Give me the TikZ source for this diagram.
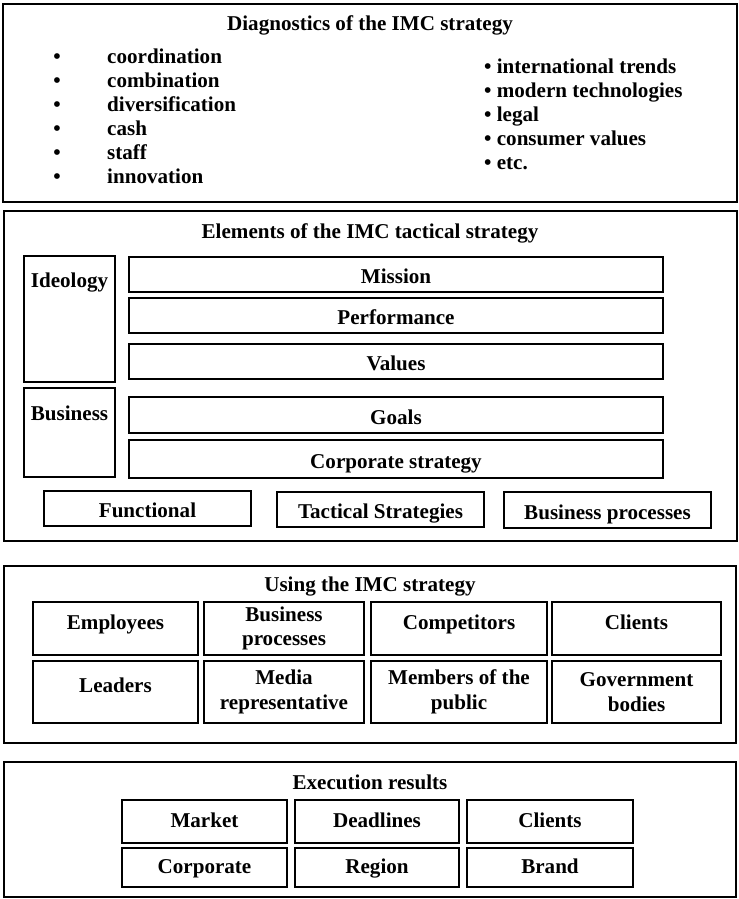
\documentclass[tikz,border=0pt]{standalone}
\usepackage{fontspec}
\setmainfont{Liberation Serif}
\usetikzlibrary{positioning}

\begin{document}
\begin{tikzpicture}[x=0.02cm,y=-0.02cm,
        every node/.style={font=\bfseries\fontsize{12}{14}\selectfont},
        panel/.style={draw,line width=1.2pt,inner sep=0pt},
        box/.style={draw,line width=1.1pt,align=center,inner sep=0pt},
        cell/.style={box,text height=12.5pt,text depth=2.2pt},
        upper/.style={text depth=11.8pt},
        result/.style={cell,text height=9pt}]

        \useasboundingbox (0,0) rectangle (739,899);

        % diagnostics
        \node[panel,minimum width=14.68cm,minimum height=3.96cm] (diag) at (370,103) {};
        \node (diagtitle) at (370,25) {Diagnostics of the IMC strategy};

        \node[anchor=base] (bul1) at (57,63) {\textbullet};
        \node[anchor=base west] (lft1) at (101,63) {coordination};
        \node[anchor=base] (bul2) at (57,87) {\textbullet};
        \node[anchor=base west] (lft2) at (101,87) {combination};
        \node[anchor=base] (bul3) at (57,111) {\textbullet};
        \node[anchor=base west] (lft3) at (101,111) {diversification};
        \node[anchor=base] (bul4) at (57,135) {\textbullet};
        \node[anchor=base west] (lft4) at (101,135) {cash};
        \node[anchor=base] (bul5) at (57,159) {\textbullet};
        \node[anchor=base west] (lft5) at (101,159) {staff};
        \node[anchor=base] (bul6) at (57,183) {\textbullet};
        \node[anchor=base west] (lft6) at (101,183) {innovation};

        \node[anchor=base west] (rgt1) at (478,73) {\textbullet\ international trends};
        \node[anchor=base west] (rgt2) at (478,97) {\textbullet\ modern technologies};
        \node[anchor=base west] (rgt3) at (478,121) {\textbullet\ legal};
        \node[anchor=base west] (rgt4) at (478,145) {\textbullet\ consumer values};
        \node[anchor=base west] (rgt5) at (478,169) {\textbullet\ etc.};

        % elements
        \node[panel,minimum width=14.66cm,minimum height=6.60cm] (elem) at (370.5,376) {};
        \node (elemtitle) at (370,233) {Elements of the IMC tactical strategy};

        \node[box,minimum width=1.82cm,minimum height=2.52cm] (ideo) at (69.5,319) {};
        \node[anchor=base] (ideolab) at (69.5,287) {Ideology};
        \node[box,minimum width=1.82cm,minimum height=1.78cm] (busi) at (69.5,432.5) {};
        \node[anchor=base] (busilab) at (69.5,420) {Business};

        \node[cell,minimum width=10.68cm,minimum height=0.70cm] (mission) at (396,274.5) {Mission};
        \node[cell,minimum width=10.68cm,minimum height=0.70cm] (perf) at (396,315.5) {Performance};
        \node[cell,minimum width=10.68cm,minimum height=0.70cm] (values) at (396,361.5) {Values};
        \node[cell,minimum width=10.68cm,minimum height=0.72cm] (goals) at (396,415) {Goals};
        \node[cell,minimum width=10.68cm,minimum height=0.76cm] (corp) at (396,459) {Corporate strategy};

        \node[cell,minimum width=4.14cm,minimum height=0.70cm] (func) at (147.5,508.5) {Functional};
        \node[cell,minimum width=4.14cm,minimum height=0.70cm] (tact) at (380.5,509.5) {Tactical Strategies};
        \node[cell,minimum width=4.14cm,minimum height=0.72cm] (bproc) at (607.5,510) {Business processes};

        % using
        \node[panel,minimum width=14.64cm,minimum height=3.54cm] (using) at (370,654.5) {};
        \node (usingtitle) at (370,587) {Using the IMC strategy};

        \node[cell,upper,minimum width=3.30cm,minimum height=1.06cm] (empl) at (115.5,628.5) {Employees};
        \node[box,minimum width=3.20cm,minimum height=1.06cm] (ubproc) at (284,628.5) {Business\\processes};
        \node[cell,upper,minimum width=3.52cm,minimum height=1.06cm] (comp) at (459,628.5) {Competitors};
        \node[cell,upper,minimum width=3.38cm,minimum height=1.06cm] (uclients) at (636.5,628.5) {Clients};
        \node[cell,upper,minimum width=3.30cm,minimum height=1.24cm] (lead) at (115.5,692) {Leaders};
        \node[box,minimum width=3.20cm,minimum height=1.24cm] (media) at (284,692) {Media\\representative};
        \node[box,minimum width=3.52cm,minimum height=1.24cm] (public) at (459,692) {Members of the\\public};
        \node[box,minimum width=3.38cm,minimum height=1.24cm] (gov) at (636.5,692) {Government\\bodies};

        % execution
        \node[panel,minimum width=14.64cm,minimum height=2.70cm] (exec) at (370,829.5) {};
        \node (exectitle) at (370,782) {Execution results};

        \node[result,minimum width=3.30cm,minimum height=0.86cm] (market) at (204.5,821.5) {Market};
        \node[result,minimum width=3.28cm,minimum height=0.86cm] (dead) at (377,821.5) {Deadlines};
        \node[result,minimum width=3.32cm,minimum height=0.86cm] (eclients) at (550,821.5) {Clients};
        \node[result,minimum width=3.30cm,minimum height=0.78cm] (ecorp) at (204.5,867.5) {Corporate};
        \node[result,minimum width=3.28cm,minimum height=0.78cm] (region) at (377,867.5) {Region};
        \node[result,minimum width=3.32cm,minimum height=0.78cm] (brand) at (550,867.5) {Brand};
\end{tikzpicture}
\end{document}
